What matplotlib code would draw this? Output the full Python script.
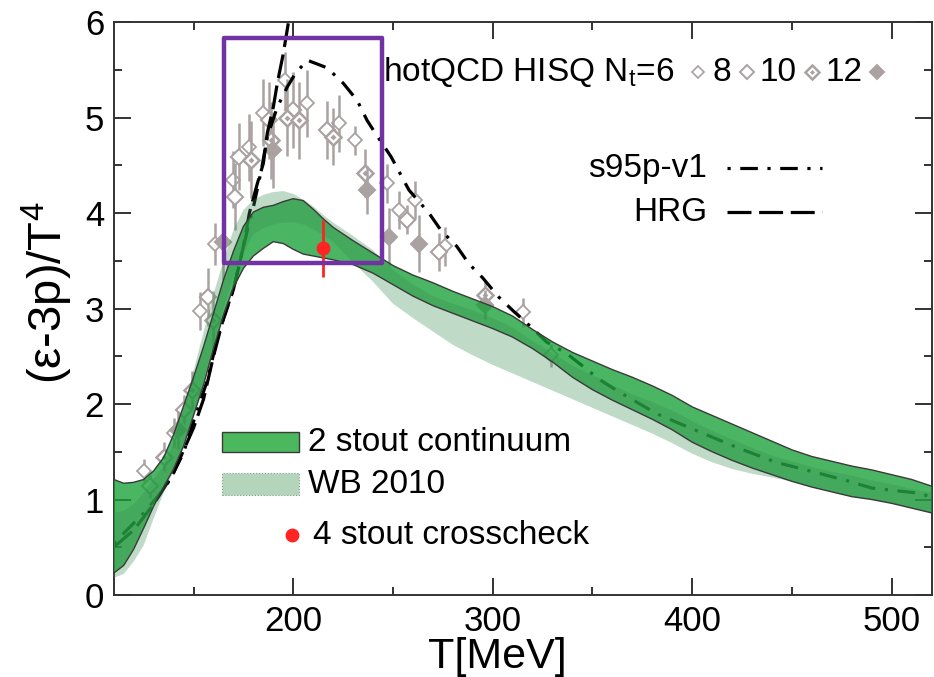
import numpy as np
import matplotlib
matplotlib.use("Agg")
import matplotlib.pyplot as plt
from matplotlib.patches import Rectangle
from matplotlib.lines import Line2D

plt.rcParams['font.family'] = ['Liberation Sans', 'DejaVu Sans']
plt.rcParams['mathtext.default'] = 'regular'

# ---------------- data ----------------
T_band = [110, 115, 120, 125, 130, 135, 140, 145, 150, 155, 160, 165, 170, 175,
          180, 185, 190, 195, 200, 205, 210, 215, 220, 230, 240, 250, 260, 270,
          280, 290, 300, 310, 320, 330, 340, 350, 360, 370, 380, 390, 400, 410,
          420, 430, 440, 450, 460, 470, 480, 490, 500, 510, 520]
stout_hi = [1.21, 1.17, 1.18, 1.21, 1.30, 1.44, 1.68, 1.98, 2.28, 2.60, 2.95, 3.30, 3.60, 3.86,
            4.01, 4.06, 4.08, 4.12, 4.15, 4.13, 4.04, 3.94, 3.85, 3.71, 3.58, 3.45, 3.35, 3.27,
            3.18, 3.10, 3.02, 2.92, 2.78, 2.65, 2.54, 2.45, 2.36, 2.28, 2.19, 2.09, 1.97, 1.88,
            1.79, 1.70, 1.61, 1.52, 1.45, 1.40, 1.35, 1.31, 1.26, 1.21, 1.14]
stout_lo = [0.23, 0.31, 0.48, 0.70, 0.93, 1.13, 1.32, 1.56, 1.88, 2.20, 2.58, 2.93, 3.22, 3.42,
            3.55, 3.63, 3.70, 3.68, 3.62, 3.57, 3.55, 3.53, 3.51, 3.46, 3.37, 3.25, 3.13, 3.03,
            2.95, 2.87, 2.79, 2.70, 2.58, 2.44, 2.28, 2.15, 2.04, 1.94, 1.84, 1.73, 1.60, 1.50,
            1.41, 1.33, 1.26, 1.19, 1.13, 1.08, 1.03, 1.00, 0.96, 0.91, 0.86]
wb_hi = [0.86, 0.88, 0.95, 1.07, 1.22, 1.35, 1.60, 1.95, 2.35, 2.75, 3.15, 3.50, 3.82, 4.03,
         4.14, 4.19, 4.22, 4.23, 4.20, 4.14, 4.07, 3.98, 3.90, 3.76, 3.61, 3.40, 3.25, 3.13,
         3.05, 2.98, 2.90, 2.80, 2.66, 2.53, 2.40, 2.30, 2.20, 2.10, 2.02, 1.93, 1.82, 1.72,
         1.63, 1.54, 1.46, 1.40, 1.34, 1.29, 1.25, 1.20, 1.16, 1.11, 1.07]
wb_lo = [0.18, 0.22, 0.35, 0.52, 0.80, 1.07, 1.30, 1.55, 1.88, 2.20, 2.60, 3.00, 3.33, 3.57,
         3.78, 3.84, 3.88, 3.90, 3.90, 3.88, 3.83, 3.77, 3.70, 3.48, 3.28, 3.05, 2.90, 2.76,
         2.62, 2.51, 2.41, 2.32, 2.23, 2.14, 2.05, 1.96, 1.87, 1.78, 1.69, 1.59, 1.48, 1.39,
         1.32, 1.27, 1.23, 1.19, 1.13, 1.08, 1.03, 1.00, 0.96, 0.91, 0.86]

T_s95p = [110, 118, 125, 132, 138, 145, 152, 157, 162, 170, 177, 180, 184, 187, 192, 197,
          201, 207, 217, 225, 232, 237, 241, 249, 258, 268, 274, 282, 288, 295, 303, 310,
          319, 327, 337, 354, 363, 373, 382, 392, 423, 442, 457, 477, 490, 512, 520]
y_s95p = [0.54, 0.71, 0.86, 1.03, 1.20, 1.49, 1.95, 2.25, 2.70, 3.20, 3.82, 4.06, 4.45, 4.80,
          5.11, 5.32, 5.46, 5.60, 5.52, 5.36, 5.18, 4.97, 4.84, 4.59, 4.24, 4.00, 3.82, 3.65,
          3.47, 3.32, 3.12, 2.98, 2.81, 2.65, 2.53, 2.25, 2.13, 2.01, 1.90, 1.81, 1.54, 1.39,
          1.31, 1.20, 1.12, 1.07, 1.03]

T_hrg = [110, 120, 130, 140, 150, 155, 160, 165, 170, 175, 178, 182, 185, 187, 190, 192, 195, 198]
y_hrg = [0.50, 0.68, 0.95, 1.28, 1.75, 2.05, 2.50, 2.90, 3.20, 3.65, 4.00, 4.31, 4.52, 4.84,
         5.11, 5.36, 5.67, 6.05]

# hotQCD HISQ points: T, value, error
T_nt6 = [125, 140, 153, 161, 170, 178, 185, 196, 207, 223, 231, 247, 253, 261, 276, 315, 329]
y_nt6 = [1.30, 1.70, 2.97, 3.68, 4.35, 4.69, 5.05, 5.39, 5.15, 4.94, 4.76, 4.31, 4.03, 4.14,
         3.65, 2.96, 2.51]
e_nt6 = [0.12, 0.15, 0.20, 0.22, 0.30, 0.35, 0.35, 0.30, 0.35, 0.30, 0.15, 0.20, 0.20, 0.20,
         0.20, 0.15, 0.12]
T_nt8 = [128, 145, 157, 171, 173, 188, 200, 217, 257, 273]
y_nt8 = [1.14, 1.94, 3.12, 4.17, 4.59, 4.97, 5.08, 4.87, 3.93, 3.59]
e_nt8 = [0.12, 0.15, 0.30, 0.35, 0.35, 0.40, 0.40, 0.30, 0.15, 0.20]
T_nt10 = [135, 149, 160, 179, 189, 197, 203, 220, 236, 296]
y_nt10 = [1.45, 2.15, 2.88, 4.56, 4.76, 5.00, 4.97, 4.80, 4.42, 3.14]
e_nt10 = [0.15, 0.20, 0.30, 0.40, 0.40, 0.40, 0.40, 0.30, 0.25, 0.15]
T_nt12 = [142, 165, 190, 237, 248, 263, 296]
y_nt12 = [1.73, 3.70, 4.66, 4.24, 3.75, 3.68, 3.04]
e_nt12 = [0.20, 0.40, 0.40, 0.25, 0.30, 0.30, 0.15]

T_cross, y_cross, e_cross = [215], [3.63], [0.30]

box_T = (165.3, 244.3)
box_y = (3.48, 5.83)

# ---------------- plot ----------------
GREY = '#aaa1a1'
fig = plt.figure(figsize=(9.34, 6.77), dpi=100)
ax = fig.add_axes([0.1218, 0.1211, 0.8756, 0.8464])

def hisq(T, y, e, face, ms, mew, dot=False):
    ax.errorbar(T, y, yerr=e, fmt='none', ecolor=GREY, elinewidth=1.8, zorder=2)
    ax.plot(T, y, ls='none', marker='D', ms=ms, mfc=face, mec=GREY, mew=mew, zorder=2)
    if dot:
        ax.plot(T, y, ls='none', marker='D', ms=3, mfc=GREY, mec=GREY, mew=0, zorder=2)

hisq(T_nt6, y_nt6, e_nt6, 'white', 7, 1.3)
hisq(T_nt8, y_nt8, e_nt8, 'white', 8, 1.5)
hisq(T_nt10, y_nt10, e_nt10, 'white', 8, 1.8, dot=True)
hisq(T_nt12, y_nt12, e_nt12, GREY, 8, 1.5)

ax.plot(T_s95p, y_s95p, color='black', lw=2.3, dashes=[1, 3.0, 5.5, 3.0], zorder=2)
ax.plot(T_hrg, y_hrg, color='black', lw=2.3, dashes=[7.5, 2.4], zorder=2)

ax.fill_between(T_band, stout_lo, stout_hi, facecolor='#17a037', alpha=0.78,
                edgecolor='none', zorder=3)
ax.fill_between(T_band, wb_lo, wb_hi, facecolor='#3a8f52', alpha=0.32,
                edgecolor='none', zorder=4)
ax.plot(T_band, stout_hi, color='#3a3a3a', lw=1.0, zorder=5)
ax.plot(T_band, stout_lo, color='#3a3a3a', lw=1.0, zorder=5)

ax.errorbar(T_cross, y_cross, yerr=e_cross, fmt='o', color='#ff2424', ms=9,
            elinewidth=2.0, capsize=0, zorder=7)

ax.add_patch(Rectangle((box_T[0], box_y[0]), box_T[1] - box_T[0], box_y[1] - box_y[0],
                       fill=False, edgecolor='#7232a3', lw=3.2, joinstyle='round', zorder=8))

ax.set_xlim(110, 520)
ax.set_ylim(0, 6)
ax.set_xticks([200, 300, 400, 500])
ax.set_xticks([150, 250, 350, 450], minor=True)
ax.set_yticks(range(0, 7))
ax.set_yticks(np.arange(0.5, 6, 1.0), minor=True)
ax.tick_params(which='both', direction='in', top=True, right=True, width=1.3,
               colors='#222222', labelcolor='black', labelsize=25)
ax.tick_params(which='major', length=12, pad=7)
ax.tick_params(which='minor', length=6)
for s in ax.spines.values():
    s.set_linewidth(1.4)
    s.set_color('#333333')

ax.set_xlabel('T[MeV]', fontsize=31)
ax.xaxis.set_label_coords(0.469, -0.073)
ax.set_ylabel('(ε-3p)/T$^4$', fontsize=34)
ax.yaxis.set_label_coords(-0.047, 0.527)

# hotQCD legend line
tr = ax.transAxes
ax.text(0.329, 0.8976, 'hotQCD HISQ N$_t$=6', transform=tr, fontsize=24, va='baseline')
for mx, face, ms, mew in [(0.7143, 'white', 6, 1.2), (0.7743, 'white', 7, 1.4),
                          (0.8538, 'white', 7, 1.8), (0.9332, GREY, 7, 1.4)]:
    ax.plot([mx], [0.9133], transform=tr, marker='D', ms=ms, mfc=face, mec=GREY,
            mew=mew, ls='none', clip_on=False)
ax.plot([0.8538], [0.9133], transform=tr, marker='D', ms=2.5, mfc=GREY, mew=0,
        ls='none', clip_on=False)
for tx, lab in [(0.7327, '8'), (0.7902, '10'), (0.8697, '12')]:
    ax.text(tx, 0.8976, lab, transform=tr, fontsize=24, va='baseline')

# s95p / HRG legend
ax.text(0.7254, 0.7452, 's95p-v1', transform=tr, fontsize=24, ha='right', va='center')
ax.add_line(Line2D([0.7497, 0.8659], [0.7452, 0.7452], transform=tr, color='black',
                   lw=2.3, dashes=[1, 3.0, 5.5, 3.0]))
ax.text(0.7254, 0.6684, 'HRG', transform=tr, fontsize=24, ha='right', va='center')
ax.add_line(Line2D([0.7497, 0.8659], [0.6684, 0.6684], transform=tr, color='black',
                   lw=2.3, dashes=[7.5, 2.4]))

# band legend
ax.add_patch(Rectangle((0.1324, 0.2496), 0.0941, 0.0349, transform=tr,
                       facecolor='#4cb85e', edgecolor='#3a3a3a', lw=1.0, zorder=9))
ax.text(0.2375, 0.2670, '2 stout continuum', transform=tr, fontsize=24, va='center')
ax.add_patch(Rectangle((0.1324, 0.1745), 0.0941, 0.0384, transform=tr,
                       facecolor='#b4d5bc', edgecolor='#8a9a8e', lw=0.8, ls=':', zorder=9))
ax.text(0.2375, 0.1937, 'WB 2010', transform=tr, fontsize=24, va='center')
ax.plot([0.2179], [0.1047], transform=tr, marker='o', ms=9, color='#ff2424', ls='none')
ax.text(0.2436, 0.1047, '4 stout crosscheck', transform=tr, fontsize=24, va='center')

fig.savefig('out.png', dpi=100)
